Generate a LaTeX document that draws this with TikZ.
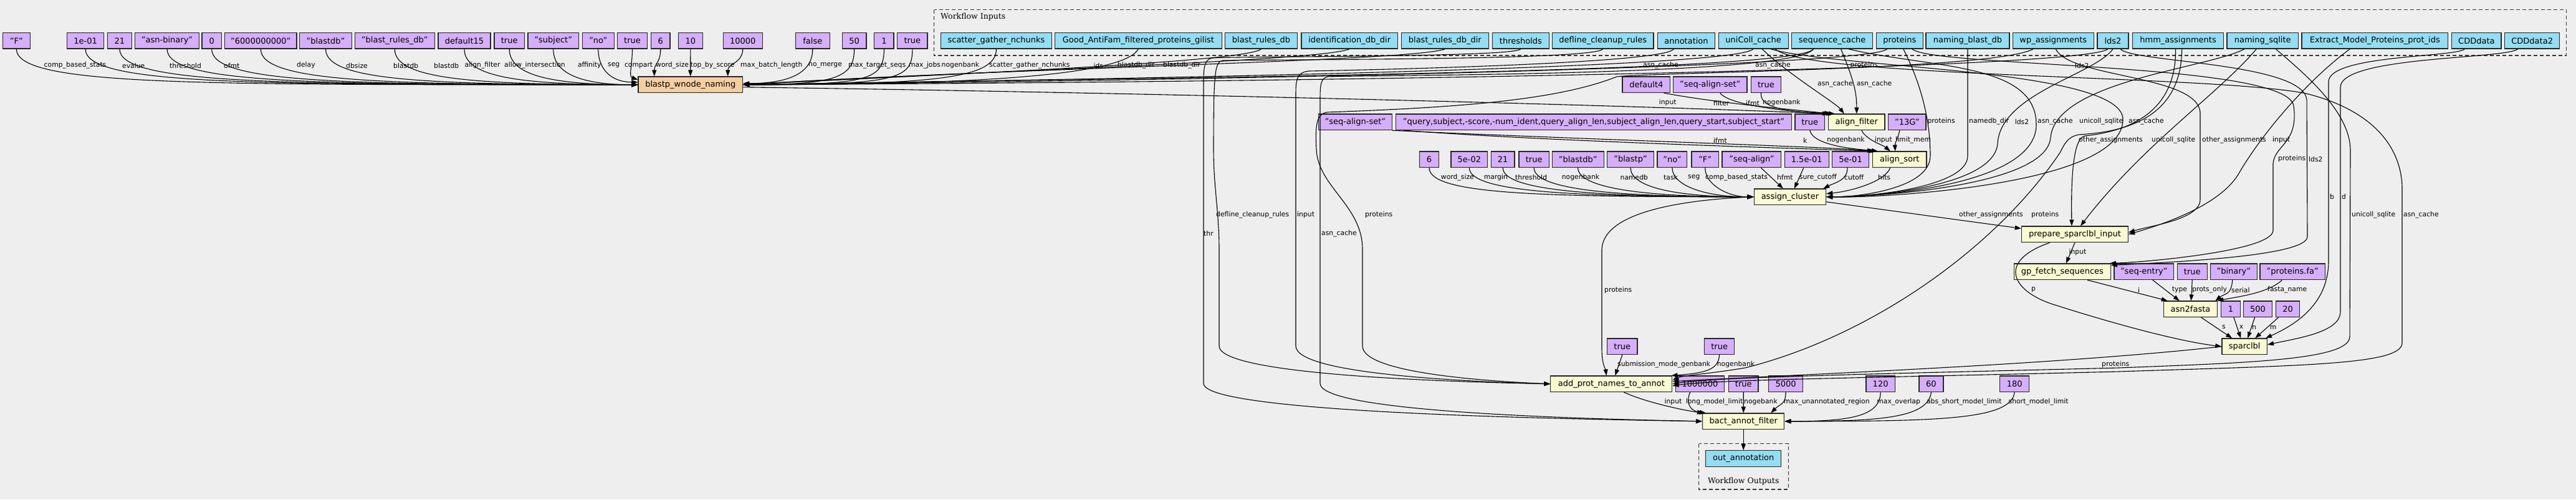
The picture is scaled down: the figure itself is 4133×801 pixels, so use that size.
\documentclass[tikz,border=0pt]{standalone}
\usepackage{fontspec}
\setmainfont{DejaVu Sans}
\newfontfamily\wfserif{DejaVu Serif}
\usetikzlibrary{arrows.meta}
\definecolor{bgc}{HTML}{EEEEEE}
\definecolor{cstc}{HTML}{D5AEFC}
\definecolor{inpc}{HTML}{94DDF4}
\definecolor{stpc}{HTML}{FAFAD2}
\definecolor{subc}{HTML}{F3CEA1}
\newcommand{\nfont}{\fontsize{13}{15}\selectfont}
\newcommand{\lfont}{\fontsize{10.8}{12}\selectfont}
\begin{document}
\begin{tikzpicture}[x=1pt,y=-1pt,
  box/.style={draw=black!85, line width=1.2pt, inner sep=0pt, minimum height=25.5pt, font=\nfont},
  cst/.style={box, fill=cstc},
  inp/.style={box, fill=inpc},
  stp/.style={box, fill=stpc},
  sub/.style={box, fill=subc},
  wire/.style={draw=black, line width=1.1pt, -{Triangle[length=10pt,width=7pt]}},
  lbl/.style={anchor=west, inner sep=0pt, font=\lfont},
  dbox/.style={draw=black!80, line width=1.3pt, dash pattern=on 6pt off 4pt}]
\fill[bgc] (0,0) rectangle (4133,801);
\useasboundingbox (0,0) rectangle (4133,801);

% ---------- workflow inputs frame ----------
\draw[dbox] (1498.5,15.7) rectangle (4117.2,89);
\node[anchor=west, inner sep=0pt, font=\wfserif\fontsize{12.5}{14}\selectfont] (wfin) at (1509,27.3) {Workflow Inputs};

% ---------- row 1 constants ----------
\node[cst,minimum width=43.7pt] (c1) at (26.35,65.3) {"F"};
\node[cst,minimum width=58.9pt] (c2) at (137.05,65.3) {1e-01};
\node[cst,minimum width=39.3pt] (c3) at (191.95,65.3) {21};
\node[cst,minimum width=103.1pt] (c4) at (268.05,65.3) {"asn-binary"};
\node[cst,minimum width=31.4pt] (c5) at (339.7,65.3) {0};
\node[cst,minimum width=115.2pt] (c6) at (418.3,65.3) {"6000000000"};
\node[cst,minimum width=83.5pt] (c7) at (522.55,65.3) {"blastdb"};
\node[cst,minimum width=128.1pt] (c8) at (633.25,65.3) {"blast\_rules\_db"};
\node[cst,minimum width=84pt] (c9) at (745,65.3) {default15};
\node[cst,minimum width=48.6pt] (c10) at (817.2,65.3) {true};
\node[cst,minimum width=81.7pt] (c11) at (887.75,65.3) {"subject"};
\node[cst,minimum width=50.9pt] (c12) at (959.85,65.3) {"no"};
\node[cst,minimum width=47.8pt] (c13) at (1014.5,65.3) {true};
\node[cst,minimum width=30.4pt] (c14) at (1059.8,65.3) {6};
\node[cst,minimum width=38.8pt] (c15) at (1107.8,65.3) {10};
\node[cst,minimum width=62.9pt] (c16) at (1191.75,65.3) {10000};
\node[cst,minimum width=55pt] (c17) at (1303.8,65.3) {false};
\node[cst,minimum width=38.7pt] (c18) at (1370.55,65.3) {50};
\node[cst,minimum width=31.2pt] (c19) at (1418.4,65.3) {1};
\node[cst,minimum width=48.3pt] (c20) at (1463.85,65.3) {true};

% ---------- workflow inputs ----------
\node[inp,minimum width=177.9pt] (i1) at (1598.45,65.3) {scatter\_gather\_nchunks};
\node[inp,minimum width=268.4pt] (i2) at (1826.4,65.3) {Good\_AntiFam\_filtered\_proteins\_gilist};
\node[inp,minimum width=116.3pt] (i3) at (2023.55,65.3) {blast\_rules\_db};
\node[inp,minimum width=154.4pt] (i4) at (2165.2,65.3) {identification\_db\_dir};
\node[inp,minimum width=140.2pt] (i5) at (2318.3,65.3) {blast\_rules\_db\_dir};
\node[inp,minimum width=90.7pt] (i6) at (2439.95,65.3) {thresholds};
\node[inp,minimum width=162.4pt] (i7) at (2571.8,65.3) {defline\_cleanup\_rules};
\node[inp,minimum width=91.9pt] (i8) at (2705.45,65.3) {annotation};
\node[inp,minimum width=112pt] (i9) at (2813.1,65.3) {uniColl\_cache};
\node[inp,minimum width=129.6pt] (i10) at (2939.6,65.3) {sequence\_cache};
\node[inp,minimum width=75.1pt] (i11) at (3047.75,65.3) {proteins};
\node[inp,minimum width=134pt] (i12) at (3157,65.3) {naming\_blast\_db};
\node[inp,minimum width=130.1pt] (i13) at (3294.25,65.3) {wp\_assignments};
\node[inp,minimum width=50pt] (i14) at (3390,65.3) {lds2};
\node[inp,minimum width=146.5pt] (i15) at (3494.55,65.3) {hmm\_assignments};
\node[inp,minimum width=114.4pt] (i16) at (3630.2,65.3) {naming\_sqlite};
\node[inp,minimum width=234.5pt] (i17) at (3810.25,65.3) {Extract\_Model\_Proteins\_prot\_ids};
\node[inp,minimum width=79.3pt] (i18) at (3973.35,65.3) {CDDdata};
\node[inp,minimum width=87.9pt] (i19) at (4062.65,65.3) {CDDdata2};

% ---------- steps and other constants ----------
\node[sub,minimum width=167.5pt] (B) at (1107.75,135.8) {blastp\_wnode\_naming};
\node[cst,minimum width=76.7pt] (d4) at (2641.35,135.8) {default4};
\node[cst,minimum width=118.6pt] (sas1) at (2743.7,135.8) {"seq-align-set"};
\node[cst,minimum width=48.3pt] (t1) at (2833.45,135.8) {true};

\node[cst,minimum width=118.3pt] (sas2) at (2174.35,195.8) {"seq-align-set"};
\node[cst,minimum width=634.6pt] (q) at (2557,195.8) {"query,subject,-score,-num\_ident,query\_align\_len,subject\_align\_len,query\_start,subject\_start"};
\node[cst,minimum width=47.4pt] (t2) at (2903.7,195.8) {true};
\node[stp,minimum width=90.4pt] (AF) at (2978.8,195.8) {align\_filter};
\node[cst,minimum width=60.2pt] (m13) at (3059.9,195.8) {"13G"};

\node[cst,minimum width=31.1pt] (k6) at (2293.05,255.8) {6};
\node[cst,minimum width=58.7pt] (k5e) at (2357.35,255.8) {5e-02};
\node[cst,minimum width=37.7pt] (k21) at (2411.15,255.8) {21};
\node[cst,minimum width=48.3pt] (kt) at (2461.15,255.8) {true};
\node[cst,minimum width=82.9pt] (kbd) at (2531.65,255.8) {"blastdb"};
\node[cst,minimum width=74.8pt] (kbp) at (2616,255.8) {"blastp"};
\node[cst,minimum width=47.8pt] (kno) at (2682.9,255.8) {"no"};
\node[cst,minimum width=43.4pt] (kF) at (2735.7,255.8) {"F"};
\node[cst,minimum width=94.9pt] (ksa) at (2810.35,255.8) {"seq-align"};
\node[cst,minimum width=70.9pt] (k15) at (2898.75,255.8) {1.5e-01};
\node[cst,minimum width=58.8pt] (k5) at (2969,255.8) {5e-01};
\node[stp,minimum width=86.5pt] (AS) at (3047.75,255.8) {align\_sort};

\node[stp,minimum width=115.4pt] (AC) at (2871.9,315.8) {assign\_cluster};
\node[stp,minimum width=171.1pt] (P) at (3328.95,375.8) {prepare\_sparclbl\_input};

\node[stp,minimum width=154.6pt] (G) at (3308.9,435.8) {gp\_fetch\_sequences};
\node[cst,minimum width=95.7pt] (se) at (3439.75,435.8) {"seq-entry"};
\node[cst,minimum width=48pt] (t3) at (3517.2,435.8) {true};
\node[cst,minimum width=74.6pt] (bin) at (3583.8,435.8) {"binary"};
\node[cst,minimum width=104.7pt] (pfa) at (3678.25,435.8) {"proteins.fa"};

\node[stp,minimum width=86.4pt] (A2F) at (3514.5,495.8) {asn2fasta};
\node[cst,minimum width=30.6pt] (n1) at (3578.9,495.8) {1};
\node[cst,minimum width=46.1pt] (n500) at (3622.55,495.8) {500};
\node[cst,minimum width=38.5pt] (n20) at (3670.55,495.8) {20};

\node[stp,minimum width=72.5pt] (S) at (3601.15,555.8) {sparclbl};
\node[cst,minimum width=48.4pt] (t4) at (2602.8,555.8) {true};
\node[cst,minimum width=48pt] (t5) at (2758.7,555.8) {true};

\node[stp,minimum width=195pt] (AP) at (2585.3,615.8) {add\_prot\_names\_to\_annot};
\node[cst,minimum width=78.5pt] (n1M) at (2727.55,615.8) {1000000};
\node[cst,minimum width=47.5pt] (t6) at (2797.25,615.8) {true};
\node[cst,minimum width=54.5pt] (n5000) at (2865.05,615.8) {5000};
\node[cst,minimum width=46.4pt] (n120) at (3017.1,615.8) {120};
\node[cst,minimum width=38.9pt] (n60) at (3098.45,615.8) {60};
\node[cst,minimum width=46.9pt] (n180) at (3232.15,615.8) {180};

\node[stp,minimum width=131.2pt] (BAF) at (2797.2,675.8) {bact\_annot\_filter};

\draw[dbox] (2725.5,711.7) rectangle (2869.4,785);
\node[inp,minimum width=121pt] (out) at (2797.2,735.5) {out\_annotation};
\node[inner sep=0pt, font=\wfserif\fontsize{12.5}{14}\selectfont] (wfout) at (2797.2,771.7) {Workflow Outputs};

% ---------- edges into blastp_wnode_naming ----------
\draw[wire] (c1.south) .. controls +(0,60) and +(-700,0) .. (B.west);
\draw[wire] (c2.south) .. controls +(0,58) and +(-620,0) .. (B.west);
\draw[wire] (c3.south) .. controls +(0,56) and +(-580,0) .. (B.west);
\draw[wire] (c4.south) .. controls +(0,55) and +(-530,0) .. (B.west);
\draw[wire] (c5.south) .. controls +(0,54) and +(-480,0) .. (B.west);
\draw[wire] (c6.south) .. controls +(0,52) and +(-420,0) .. (B.west);
\draw[wire] (c7.south) .. controls +(0,50) and +(-350,0) .. (B.west);
\draw[wire] (c8.south) .. controls +(0,48) and +(-270,0) .. (B.west);
\draw[wire] (c9.south) .. controls +(0,45) and +(-190,0) .. (B.west);
\draw[wire] (c10.south) .. controls +(0,42) and +(-140,0) .. (B.west);
\draw[wire] (c11.south) .. controls +(0,40) and +(-90,0) .. (B.west);
\draw[wire] (c12.south) .. controls +(0,35) and +(-40,0) .. ([yshift=4pt]B.west);
\draw[wire] (c13.south) .. controls +(0,25) and +(-15,-5) .. ([yshift=8pt]B.west);
\draw[wire] (c14.south) .. controls +(0,22) and +(0,-20) .. ([xshift=-58pt]B.north);
\draw[wire] (c15.south) -- (B.north);
\draw[wire] (c16.south) .. controls +(0,22) and +(0,-20) .. ([xshift=60pt]B.north);
\draw[wire] (c17.south) .. controls +(0,45) and +(60,0) .. ([yshift=2pt]B.east);
\draw[wire] (c18.south) .. controls +(0,45) and +(150,0) .. (B.east);
\draw[wire] (c19.south) .. controls +(0,50) and +(200,0) .. (B.east);
\draw[wire] (c20.south) .. controls +(0,48) and +(250,0) .. (B.east);
\draw[wire] (i1.south) .. controls +(0,45) and +(320,0) .. (B.east);
\draw[wire] (i2.south) .. controls +(-20,35) and +(450,0) .. (B.east);
\draw[wire] (i3.south) .. controls (2000,100) and (1500,120) .. (B.east);
\draw[wire] (i4.south) .. controls (2120,98) and (1550,115) .. (B.east);
\draw[wire] (i5.south) .. controls (2270,98) and (1600,110) .. (B.east);
\draw[wire] (i9.south) .. controls (2780,112) and (1700,128) .. (B.east);
\draw[wire] ([xshift=-30pt]i10.south) .. controls (2880,118) and (1800,125) .. (B.east);
\draw[wire] ([xshift=-20pt]i11.south) .. controls (3000,108) and (1900,130) .. (B.east);
\draw[wire] ([xshift=-8pt]i14.south) .. controls (3340,112) and (2100,132) .. (B.east);

\node[lbl] (lb1) at (70.5,105) {comp\_based\_stats};
\node[lbl] (lb2) at (196,105) {evalue};
\node[lbl] (lb3) at (272,105) {threshold};
\node[lbl] (lb4) at (359,105) {ofmt};
\node[lbl] (lb5) at (476,105) {delay};
\node[lbl] (lb6) at (555,105) {dbsize};
\node[lbl] (lb7) at (631,105) {blastdb};
\node[lbl] (lb8) at (696,105) {blastdb};
\node[lbl] (lb9) at (745.5,105) {align\_filter};
\node[lbl] (lb10) at (809,105) {allow\_intersection};
\node[lbl] (lb11) at (926.8,105) {affinity};
\node[lbl] (lb12) at (975,105) {seg};
\node[lbl] (lb13) at (1001.8,105) {compart};
\node[lbl] (lb14) at (1052,105) {word\_size};
\node[lbl] (lb15) at (1107.6,105) {top\_by\_score};
\node[lbl] (lb16) at (1188,105) {max\_batch\_length};
\node[lbl] (lb17) at (1297,105) {no\_merge};
\node[lbl] (lb18) at (1361,105) {max\_target\_seqs};
\node[lbl] (lb19) at (1457.8,105) {max\_jobs};
\node[lbl] (lb20) at (1510.5,105) {nogenbank};
\node[lbl] (lb21) at (1587,105) {scatter\_gather\_nchunks};
\node[lbl] (lb22) at (1754.4,105) {ids};
\node[lbl] (lb23) at (1792.7,105) {blastdb\_dir};
\node[lbl] (lb24) at (1866,105) {blastdb\_dir};
\node[lbl] (lb25) at (2636,105) {asn\_cache};
\node[lbl] (lb26) at (2816,105) {asn\_cache};
\node[lbl] (lb27) at (2968.5,105) {proteins};
\node[lbl] (lb28) at (3329,105) {lds2};

% ---------- align_filter ----------
\draw[wire] ([yshift=-4pt]B.east) .. controls (1800,148) and (2600,168) .. ([xshift=1pt]AF.north west);
\draw[wire] ([xshift=28pt]d4.south) .. controls (2760,166) and (2880,176) .. ([xshift=4pt]AF.north west);
\draw[wire] ([xshift=16pt]sas1.south) .. controls (2775,170) and (2880,180) .. ([xshift=7pt]AF.north west);
\draw[wire] ([xshift=-8pt]t1.south) .. controls (2822,178) and (2890,180) .. ([xshift=11pt]AF.north west);
\draw[wire] ([xshift=14pt]i9.south) .. controls (2870,120) and (2945,165) .. ([xshift=-20pt]AF.north);
\draw[wire] ([xshift=14pt]i10.south) .. controls (2975,130) and (2979,150) .. (AF.north);
\node[lbl] (la1) at (2661.6,165) {input};
\node[lbl] (la2) at (2749,165) {filter};
\node[lbl] (la3) at (2801,165) {ifmt};
\node[lbl] (la4) at (2828,165) {nogenbank};
\node[lbl] (la5) at (2916,135) {asn\_cache};
\node[lbl] (la6) at (2978.6,135) {asn\_cache};

% ---------- align_sort ----------
\draw[wire] ([xshift=59pt]sas2.south) .. controls (2500,222) and (2950,236) .. ([xshift=2pt]AS.north west);
\draw[wire] ([xshift=-305pt]q.south) .. controls (2500,228) and (2950,240) .. ([xshift=5pt]AS.north west);
\draw[wire] (t2.south) .. controls (2910,236) and (2990,240) .. ([xshift=9pt]AS.north west);
\draw[wire] ([xshift=8pt]AF.south) .. controls (2995,225) and (3020,232) .. ([xshift=-15pt]AS.north);
\draw[wire] ([xshift=-12pt]m13.south) .. controls (3045,222) and (3040,230) .. ([xshift=-7pt]AS.north);
\node[lbl] (ls1) at (2749,225) {ifmt};
\node[lbl] (ls2) at (2893,225) {k};
\node[lbl] (ls3) at (2931,225) {nogenbank};
\node[lbl] (ls4) at (3007.8,225) {input};
\node[lbl] (ls5) at (3041,225) {limit\_mem};

% ---------- assign_cluster ----------
\draw[wire] (k6.south) .. controls +(0,42) and +(-350,0) .. (AC.west);
\draw[wire] (k5e.south) .. controls +(0,38) and +(-300,0) .. (AC.west);
\draw[wire] (k21.south) .. controls +(0,36) and +(-260,0) .. (AC.west);
\draw[wire] (kt.south) .. controls +(0,34) and +(-230,0) .. (AC.west);
\draw[wire] (kbd.south) .. controls +(0,32) and +(-180,0) .. (AC.west);
\draw[wire] (kbp.south) .. controls +(0,30) and +(-130,0) .. (AC.west);
\draw[wire] (kno.south) .. controls +(0,28) and +(-80,0) .. (AC.west);
\draw[wire] (kF.south) .. controls +(0,28) and +(-40,0) .. (AC.west);
\draw[wire] ([xshift=15pt]ksa.south) -- ([xshift=-11pt]AC.north);
\draw[wire] ([xshift=-5pt]k15.south) -- ([xshift=7pt]AC.north);
\draw[wire] ([xshift=-5pt]k5.south) .. controls +(0,20) and +(20,-10) .. ([xshift=-5pt]AC.north east);
\draw[wire] ([xshift=-15pt]AS.south) .. controls (3025,290) and (2975,306) .. ([yshift=5pt]AC.east);
\draw[wire] ([xshift=6pt]i11.south) .. controls (3090,150) and (3097,210) .. (3097,250) .. controls (3097,300) and (2990,316) .. (AC.east);
\draw[wire] (i12.south) -- (3157,250) .. controls (3157,300) and (3000,316) .. (AC.east);
\draw[wire] (i14.south) .. controls (3360,120) and (3210,150) .. (3205,230) .. controls (3200,300) and (3000,316) .. (AC.east);
\draw[wire] ([xshift=26pt]i10.south) .. controls (3100,110) and (3267,100) .. (3267,200) .. controls (3267,300) and (3000,316) .. (AC.east);
\draw[wire] ([xshift=-29pt]i16.south) .. controls (3540,110) and (3300,130) .. (3290,220) .. controls (3285,300) and (3000,316) .. (AC.east);
\draw[wire] ([xshift=28pt]i9.south) .. controls (2950,110) and (3400,110) .. (3406,190) .. controls (3410,300) and (3000,318) .. (AC.east);
\node[lbl] (lc1) at (2311.7,284.3) {word\_size};
\node[lbl] (lc2) at (2380.6,284.3) {margin};
\node[lbl] (lc3) at (2431,284.3) {threshold};
\node[lbl] (lc4) at (2505.6,284.3) {nogenbank};
\node[lbl] (lc5) at (2599.5,284.3) {namedb};
\node[lbl] (lc6) at (2669,284.3) {task};
\node[lbl] (lc7) at (2708,284.3) {seg};
\node[lbl] (lc8) at (2736,284.3) {comp\_based\_stats};
\node[lbl] (lc9) at (2851,284.3) {hfmt};
\node[lbl] (lc10) at (2886.7,284.3) {sure\_cutoff};
\node[lbl] (lc11) at (2959,284.3) {cutoff};
\node[lbl] (lc12) at (3013,284.3) {hits};
\node[lbl] (lc13) at (3092.4,195) {proteins};
\node[lbl] (lc14) at (3159,195) {namedb\_dir};
\node[lbl] (lc15) at (3232.6,195) {lds2};
\node[lbl] (lc16) at (3269,195) {asn\_cache};
\node[lbl] (lc17) at (3336,195) {unicoll\_sqlite};
\node[lbl] (lc18) at (3415,195) {asn\_cache};

% ---------- prepare_sparclbl_input ----------
\draw[wire] ([yshift=-8pt]AC.east) -- ([yshift=-4pt]P.north west);
\draw[wire] ([xshift=-4pt]i15.south) .. controls (3492,190) and (3400,212) .. (3345,218) .. controls (3324,222) and (3323,300) .. ([xshift=-5pt]P.north);
\draw[wire] ([xshift=-10pt]i16.south) .. controls (3560,150) and (3440,230) .. ([xshift=9pt]P.north);
\draw[wire] ([xshift=4pt]i13.south) .. controls (3320,125) and (3525,120) .. (3530,180) -- (3530,320) .. controls (3530,352) and (3450,362) .. ([yshift=3pt]P.east);
\draw[wire] ([xshift=-40pt]i17.south) .. controls (3700,130) and (3625,220) .. (3591,280) .. controls (3560,330) and (3470,360) .. (P.east);
\node[lbl] (lp1) at (3143,345) {other\_assignments};
\node[lbl] (lp3) at (3335,225) {other\_assignments};
\node[lbl] (lp4) at (3452,225) {unicoll\_sqlite};
\node[lbl] (lp5) at (3533,225) {other\_assignments};
\node[lbl] (lp6) at (3646,225) {input};

% ---------- gp_fetch_sequences ----------
\draw[wire] (P.south) -- ([xshift=6pt]G.north);
\draw[wire] ([xshift=20pt]i11.south) .. controls (3100,108) and (3672,100) .. (3680,170) .. controls (3688,230) and (3650,232) .. (3647,262) -- (3647,370) .. controls (3645,402) and (3450,420) .. ([xshift=-2pt]G.north east);
\draw[wire] ([xshift=12pt]i14.south) .. controls (3420,100) and (3695,100) .. (3701,160) -- (3702,380) .. controls (3700,410) and (3500,420) .. ([yshift=-3pt]G.north east);
\node[lbl] (lg1) at (3319.4,405) {input};
\node[lbl] (lg2) at (3655,255) {proteins};
\node[lbl] (lg3) at (3704,255) {lds2};

% ---------- asn2fasta ----------
\draw[wire] ([xshift=40pt]G.south) -- ([xshift=7pt]A2F.north west);
\draw[wire] ([xshift=14pt]se.south) -- ([xshift=26pt]A2F.north west);
\draw[wire] (t3.south) -- ([xshift=1pt]A2F.north);
\draw[wire] ([xshift=-2pt]bin.south) .. controls +(-2,25) and +(15,-12) .. ([xshift=-4pt]A2F.north east);
\draw[wire] ([xshift=-17pt]pfa.south) .. controls (3640,470) and (3590,476) .. ([xshift=-1pt]A2F.north east);
\node[lbl] (lf1) at (3430,465) {i};
\node[lbl] (lf2) at (3484.7,465) {type};
\node[lbl] (lf3) at (3517,465) {prots\_only};
\node[lbl] (lf4) at (3580,465) {serial};
\node[lbl] (lf5) at (3638,465) {fasta\_name};

% ---------- sparclbl ----------
\draw[wire] ([xshift=17pt]A2F.south) -- ([xshift=-20pt]S.north);
\draw[wire] ([xshift=5pt]n1.south) -- ([xshift=-6pt]S.north);
\draw[wire] ([xshift=-5pt]n500.south) -- ([xshift=5pt]S.north);
\draw[wire] ([xshift=-15pt]n20.south) -- ([xshift=17pt]S.north);
\draw[wire] ([xshift=-19pt]i18.south) .. controls (3940,92) and (3740,88) .. (3736,130) -- (3736,420) .. controls (3735,490) and (3680,522) .. ([xshift=-3pt]S.north east);
\draw[wire] ([xshift=-23pt]i19.south) .. controls (4020,95) and (3755,90) .. (3755,140) -- (3755,500) .. controls (3755,532) and (3690,542) .. ([yshift=3pt]S.east);
\draw[wire] ([xshift=-40pt]P.south) .. controls (3200,420) and (3230,470) .. (3300,490) .. controls (3400,522) and (3500,548) .. (S.west);
\node[lbl] (lsp1) at (3565,525) {s};
\node[lbl] (lsp2) at (3592.7,525) {x};
\node[lbl] (lsp3) at (3613,525) {n};
\node[lbl] (lsp4) at (3641.7,525) {m};
\node[lbl] (lsp5) at (3738,315) {b};
\node[lbl] (lsp6) at (3757,315) {d};
\node[lbl] (lp7) at (3259,465) {p};

% ---------- add_prot_names_to_annot ----------
\draw[wire] (i7.south) .. controls (2560,96) and (2100,95) .. (1962,97) .. controls (1949,99) and (1947,115) .. (1947,240) .. controls (1947,300) and (1956,340) .. (1956,400) -- (1956,555) .. controls (1956,600) and (2300,612) .. (AP.west);
\draw[wire] ([xshift=-20pt]i8.south) .. controls (2670,102) and (2200,112) .. (2100,114) .. controls (2082,116) and (2079,125) .. (2079,150) -- (2079,555) .. controls (2079,600) and (2350,612) .. (AP.west);
\draw[wire] ([xshift=-32pt]i13.south) .. controls (3200,112) and (2650,116) .. (2594,123) .. controls (2500,160) and (2350,172) .. (2130,180) .. controls (2112,182) and (2110,200) .. (2112,240) .. controls (2115,300) and (2186,330) .. (2186,400) -- (2186,555) .. controls (2186,600) and (2400,612) .. (AP.west);
\draw[wire] (AC.west) .. controls (2700,320) and (2572,340) .. (2570,400) -- (2570,560) .. controls (2570,585) and (2576,592) .. ([xshift=-8pt]AP.north);
\draw[wire] (t4.south) -- ([xshift=6pt]AP.north);
\draw[wire] (t5.south) .. controls (2757,592) and (2740,598) .. ([xshift=-2pt]AP.north east);
\draw[wire] (S.west) .. controls (3300,585) and (2900,600) .. ([yshift=4pt]AP.east);
\draw[wire] ([xshift=6pt]i15.south) .. controls (3500,195) and (3400,212) .. (3335,216) .. controls (3316,220) and (3312,232) .. (3305,245) .. controls (3200,400) and (3000,540) .. (2800,590) .. controls (2740,600) and (2700,602) .. ([yshift=6pt]AP.east);
\draw[wire] ([xshift=21pt]i16.south) .. controls (3700,120) and (3770,180) .. (3771,240) -- (3770,540) .. controls (3770,578) and (3600,582) .. (3400,590) .. controls (3000,600) and (2750,605) .. (AP.east);
\draw[wire] ([xshift=35pt]i9.south) .. controls (2900,125) and (3550,120) .. (3700,150) .. controls (3800,175) and (3852,230) .. (3854,300) -- (3854,550) .. controls (3854,585) and (3700,586) .. (3400,596) .. controls (3000,606) and (2750,609) .. ([yshift=-3pt]AP.east);
\node[lbl] (lap1) at (1951,345) {defline\_cleanup\_rules};
\node[lbl] (lap2) at (2081,345) {input};
\node[lbl] (lap3) at (2190,345) {proteins};
\node[lbl] (lap4) at (2574,466) {proteins};
\node[lbl] (lap5) at (2595,585) {submission\_mode\_genbank};
\node[lbl] (lap6) at (2754.6,585) {nogenbank};
\node[lbl] (lap7) at (3372,585) {proteins};
\node[lbl] (lap8) at (3773,345) {unicoll\_sqlite};
\node[lbl] (lap9) at (3856,345) {asn\_cache};
\node[lbl] (lp2) at (3259,345) {proteins};

% ---------- bact_annot_filter ----------
\draw[wire] ([xshift=20pt]AP.south) .. controls (2640,645) and (2700,658) .. ([xshift=2pt]BAF.north west);
\draw[wire] ([xshift=-16pt]n1M.south) .. controls (2703,650) and (2715,660) .. ([xshift=6pt]BAF.north west);
\draw[wire] (t6.south) -- (BAF.north);
\draw[wire] (n5000.south) .. controls +(0,20) and +(15,-15) .. ([xshift=44pt]BAF.north);
\draw[wire] (n120.south) .. controls +(0,40) and +(100,0) .. (BAF.east);
\draw[wire] (n60.south) .. controls +(-5,42) and +(150,0) .. (BAF.east);
\draw[wire] (n180.south) .. controls +(-5,44) and +(250,0) .. (BAF.east);
\draw[wire] (i6.south) .. controls (2430,92) and (2000,90) .. (1945,93) .. controls (1932,95) and (1931,110) .. (1931,130) -- (1931,615) .. controls (1931,662) and (2500,672) .. (BAF.west);
\draw[wire] ([xshift=-30pt]i10.south) .. controls (2880,122) and (2200,120) .. (2130,123) .. controls (2119,126) and (2118,135) .. (2118,160) -- (2118,615) .. controls (2118,662) and (2550,672) .. (BAF.west);
\draw[wire] (BAF.south) -- (out.north);
\node[lbl] (lbf1) at (2670.4,645) {input};
\node[lbl] (lbf2) at (2704.6,645) {long\_model\_limit};
\node[lbl] (lbf3) at (2798,645) {nogebank};
\node[lbl] (lbf4) at (2861.7,645) {max\_unannotated\_region};
\node[lbl] (lbf5) at (3011.2,645) {max\_overlap};
\node[lbl] (lbf6) at (3090.8,645) {abs\_short\_model\_limit};
\node[lbl] (lbf7) at (3222.4,645) {short\_model\_limit};
\node[lbl] (lbf8) at (1931,374) {thr};
\node[lbl] (lbf9) at (2120,375) {asn\_cache};
\end{tikzpicture}
\end{document}
